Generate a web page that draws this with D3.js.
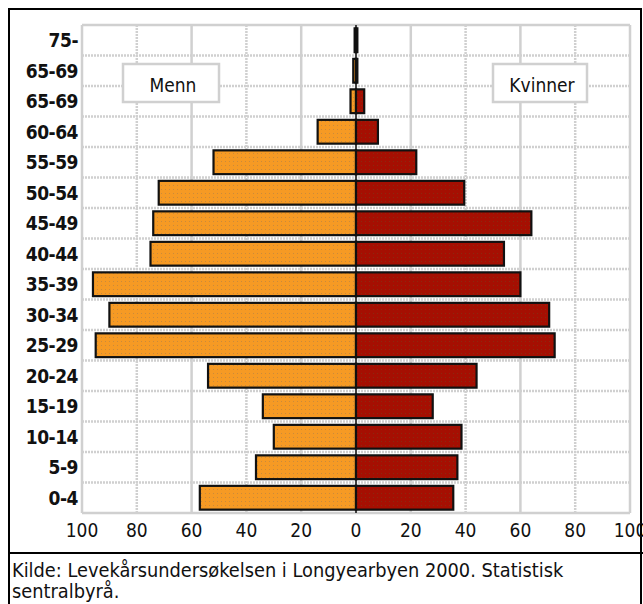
<!DOCTYPE html>
<html><head><meta charset="utf-8">
<script src="https://cdn.jsdelivr.net/npm/d3@7"></script>
<style>body{margin:0;background:#fff}</style>
</head><body>
<svg id="c" width="643" height="604"></svg>
<script>
const ageGroups = ["75-","65-69","65-69","60-64","55-59","50-54","45-49","40-44","35-39","30-34","25-29","20-24","15-19","10-14","5-9","0-4"];
const menn    = [0.5, 1, 2, 14, 52, 72, 74, 75, 96, 90, 95, 54, 34, 30, 36.5, 57];
const kvinner = [0.5, 0.5, 3, 8, 22, 39.5, 64, 54, 60, 70.5, 72.5, 44, 28, 38.5, 37, 35.5];
const tickValues = [-100,-80,-60,-40,-20,0,20,40,60,80,100];
const seriesNames = ["Menn","Kvinner"];
const caption = ["Kilde: Levekårsundersøkelsen i Longyearbyen 2000. Statistisk","sentralbyrå."];

const svg = d3.select("#c");
const font = "'DejaVu Sans Condensed','DejaVu Sans',sans-serif";
const L = 82, R = 630, T = 25, B = 513;
const x = d3.scaleLinear().domain([-100,100]).range([L,R]);
const y = d3.scaleBand().domain(d3.range(ageGroups.length)).range([T,B]).paddingInner(0.22).paddingOuter(0.11);
const yRow = d3.scaleBand().domain(d3.range(ageGroups.length)).range([T,B]);

// frame
svg.append("rect").attr("x",9).attr("y",9).attr("width",632).attr("height",640)
  .attr("fill","none").attr("stroke","#000").attr("stroke-width",2);
svg.append("line").attr("x1",9).attr("x2",643).attr("y1",553).attr("y2",553).attr("stroke","#000").attr("stroke-width",2);

// grid
const g = svg.append("g");
g.selectAll(".v").data(tickValues).join("line")
  .attr("x1",d=>x(d)).attr("x2",d=>x(d)).attr("y1",T).attr("y2",B)
  .attr("stroke","#d0d0d0").attr("stroke-width",2.5)
  .attr("stroke-dasharray",(d,i)=> (i%2===1 && d!==0) ? "2,1" : null);
g.selectAll(".h").data(d3.range(ageGroups.length+1)).join("line")
  .attr("x1",L).attr("x2",R)
  .attr("y1",i=> i<ageGroups.length ? yRow(i) : B).attr("y2",i=> i<ageGroups.length ? yRow(i) : B)
  .attr("stroke","#d0d0d0").attr("stroke-width",2.5)
  .attr("stroke-dasharray",i=> (i===0||i===ageGroups.length)?null:"2,1");

// pattern fills
const defs = svg.append("defs");
const p1 = defs.append("pattern").attr("id","po").attr("width",4).attr("height",4).attr("patternUnits","userSpaceOnUse");
p1.append("rect").attr("width",4).attr("height",4).attr("fill","#f69a24");
p1.append("rect").attr("x",1).attr("y",1).attr("width",1).attr("height",1).attr("fill","#c98a3c");
const p2 = defs.append("pattern").attr("id","pr").attr("width",4).attr("height",4).attr("patternUnits","userSpaceOnUse");
p2.append("rect").attr("width",4).attr("height",4).attr("fill","#a50f02");
p2.append("rect").attr("x",1).attr("y",1).attr("width",1).attr("height",1).attr("fill","#8a2a10");

// legend boxes
const leg = [{n:seriesNames[0],x0:123,x1:219},{n:seriesNames[1],x0:493,x1:587}];
leg.forEach(l=>{
  svg.append("rect").attr("x",l.x0).attr("y",64).attr("width",l.x1-l.x0).attr("height",38)
    .attr("fill","#fff").attr("stroke","#d0d0d0").attr("stroke-width",2.5);
  svg.append("text").attr("x",(l.x0+l.x1)/2+2).attr("y",92).attr("text-anchor","middle")
    .attr("font-family",font).attr("font-size",19).attr("fill","#111").text(l.n);
});

// bars
svg.append("g").selectAll("rect").data(menn).join("rect")
  .attr("x",d=>x(-d)).attr("y",(d,i)=>y(i)).attr("width",d=>x(0)-x(-d)).attr("height",y.bandwidth())
  .attr("fill","url(#po)").attr("stroke","#111").attr("stroke-width",2.2);
svg.append("g").selectAll("rect").data(kvinner).join("rect")
  .attr("x",x(0)).attr("y",(d,i)=>y(i)).attr("width",d=>x(d)-x(0)).attr("height",y.bandwidth())
  .attr("fill","url(#pr)").attr("stroke","#111").attr("stroke-width",2.2);
svg.append("line").attr("x1",x(0)).attr("x2",x(0)).attr("y1",T).attr("y2",B).attr("stroke","#111").attr("stroke-width",1.5);

// y labels
svg.append("g").selectAll("text").data(ageGroups).join("text")
  .attr("x",78).attr("y",(d,i)=>yRow(i)+yRow.bandwidth()/2+7).attr("text-anchor","end")
  .attr("font-family",font).attr("font-size",19).attr("font-weight","bold").attr("letter-spacing",-0.5).attr("fill","#111").text(d=>d);

// x ticks
svg.append("g").selectAll("text").data(tickValues).join("text")
  .attr("x",d=>x(d)).attr("y",537).attr("text-anchor","middle")
  .attr("font-family",font).attr("font-size",19).attr("fill","#111").text(d=>Math.abs(d));

// caption
svg.append("g").selectAll("text").data(caption).join("text")
  .attr("x",12).attr("y",(d,i)=>577+i*21)
  .attr("font-family",font).attr("font-size",19.8).attr("fill","#111").text(d=>d);
</script>
</body></html>
